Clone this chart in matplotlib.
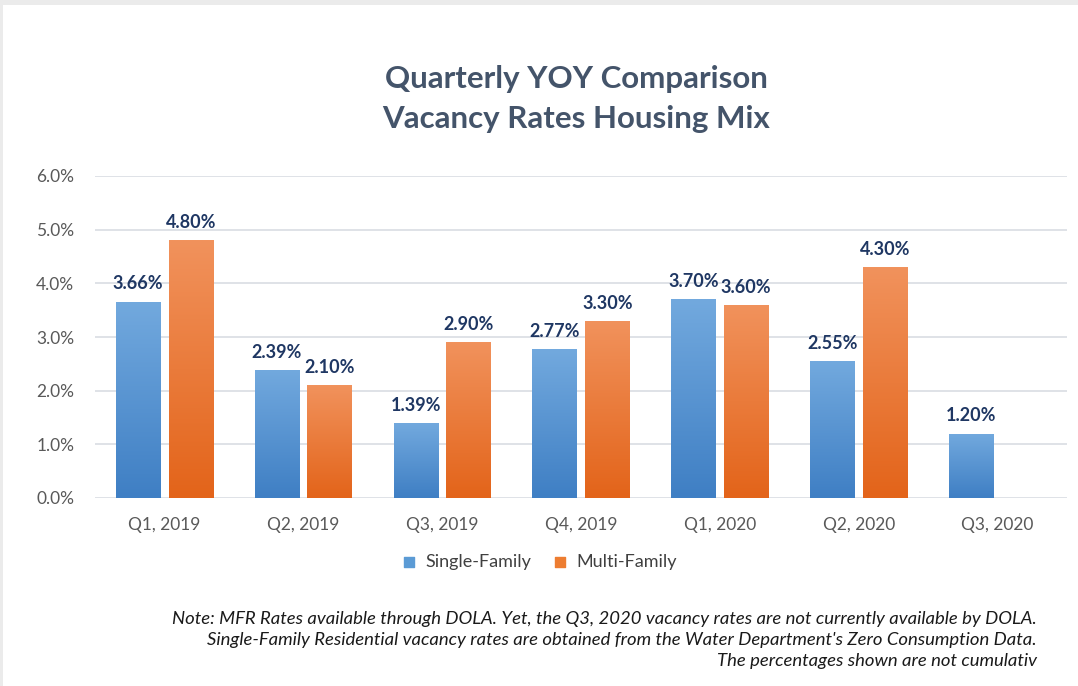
import numpy as np
import matplotlib.pyplot as plt
from matplotlib.patches import Rectangle
from matplotlib.colors import LinearSegmentedColormap

quarters = ["Q1, 2019", "Q2, 2019", "Q3, 2019", "Q4, 2019", "Q1, 2020", "Q2, 2020", "Q3, 2020"]
single_family = [3.66, 2.39, 1.39, 2.77, 3.70, 2.55, 1.20]
multi_family = [4.80, 2.10, 2.90, 3.30, 3.60, 4.30, None]
yticks = [0, 1, 2, 3, 4, 5, 6]

title = "Quarterly YOY Comparison\nVacancy Rates Housing Mix"
note = ("Note: MFR Rates available through DOLA. Yet, the Q3, 2020 vacancy rates are not currently available by DOLA.\n"
        "Single-Family Residential vacancy rates are obtained from the Water Department's Zero Consumption Data.\n"
        "The percentages shown are not cumulativ")

plt.rcParams['font.family'] = ['Lato', 'DejaVu Sans']

fig = plt.figure(figsize=(10.78, 6.86), dpi=100)
fig.patch.set_facecolor('#ebebeb')
# white chart area inside thin grey frame
fig.patches.append(Rectangle((3/1078, 0), 1 - 3/1078, 1 - 5/686, transform=fig.transFigure,
                             facecolor='white', edgecolor='none', zorder=-5))

ax = fig.add_axes([95/1078, 1 - 498/686, (1067-95)/1078, (498-176)/686])
ax.set_facecolor('none')

x = np.arange(len(quarters))
w = 0.32
off = 0.19

blue_cm = LinearSegmentedColormap.from_list('b', ['#3f7fc4', '#72a9de'])
orange_cm = LinearSegmentedColormap.from_list('o', ['#e3641a', '#f1925c'])
grad = np.linspace(0, 1, 100).reshape(-1, 1)

def gradient_bars(xs, vals, cmap):
    for xi, v in zip(xs, vals):
        if v is None:
            continue
        r = Rectangle((xi - w/2, 0), w, v, facecolor='none', edgecolor='none')
        ax.add_patch(r)
        im = ax.imshow(grad, cmap=cmap, aspect='auto', origin='lower',
                       extent=(xi - w/2, xi + w/2, 0, v), zorder=2)
        im.set_clip_path(r)

gradient_bars(x - off, single_family, blue_cm)
gradient_bars(x + off, multi_family, orange_cm)

for xi, v in zip(x - off, single_family):
    ax.text(xi, v + 0.17, "%.2f%%" % v, ha='center', va='bottom', fontsize=13,
            fontweight='bold', color='#1f3763')
for xi, v in zip(x + off, multi_family):
    if v is None:
        continue
    ax.text(xi, v + 0.17, "%.2f%%" % v, ha='center', va='bottom', fontsize=13,
            fontweight='bold', color='#1f3763')

ax.set_xlim(-0.5, len(quarters) - 0.5)
ax.set_ylim(0, 6)
ax.set_yticks(yticks)
ax.set_yticklabels(["%.1f%%" % t for t in yticks])
ax.set_xticks(x)
ax.set_xticklabels(quarters)
ax.tick_params(axis='both', length=0, labelsize=12.5, labelcolor='#595959')
ax.tick_params(axis='y', pad=15)
ax.tick_params(axis='x', pad=14)
ax.grid(axis='y', color='#d9dde3', linewidth=1.2)
ax.set_axisbelow(True)
for s in ax.spines.values():
    s.set_visible(False)

fig.text(576/1078, 1 - 99/686, title, ha='center', va='center', fontsize=22.5,
         fontweight='bold', color='#44546a', linespacing=1.55)

# legend
h1 = ax.scatter([], [], marker='s', s=55, color='#5b9bd5')
h2 = ax.scatter([], [], marker='s', s=55, color='#ed7d31')
fig.legend([h1, h2], ["Single-Family", "Multi-Family"], loc='center',
           bbox_to_anchor=(534/1078, 1 - 562/686), ncol=2, frameon=False,
           fontsize=13, handletextpad=-0.1, columnspacing=0.6, labelcolor='#404040')

fig.text(1037/1078, 1 - 640/686, note, ha='right', va='center', fontsize=13.3,
         style='italic', color='#1a1a1a', linespacing=1.4)

plt.savefig("out.png", dpi=100, facecolor=fig.get_facecolor())
